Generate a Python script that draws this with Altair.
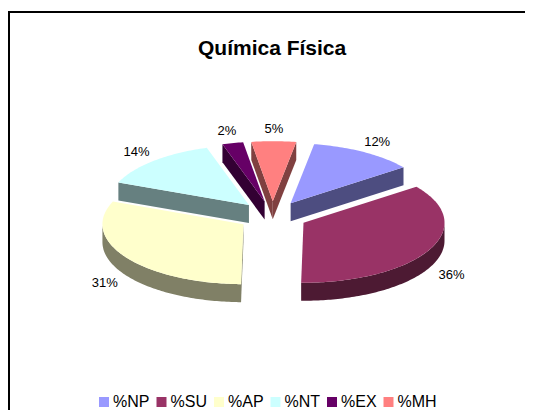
import math
import altair as alt
import pandas as pd

title_text = "Química Física"
names = ["%NP", "%SU", "%AP", "%NT", "%EX", "%MH"]
shares = [12.1, 35.5, 30.9, 14.0, 2.4, 5.1]
face_colors = ["#9999FF", "#993366", "#FFFFCC", "#CCFFFF", "#660066", "#FF8080"]
wall_colors = ["#4D4D80", "#4D1A33", "#808066", "#668080", "#330033", "#804040"]

FIRST_ANGLE = 9.6
RX, RY, DEPTH = 141.0, 60.0, 18.0
EXPLODE = 0.247
LABEL_RX, LABEL_RY = 201.0, 87.0
CX, CY = 272.5, 216.0          # page position of the pie centre
TOP = 8                        # page y of the view's top edge
LEFT = 8


def pt(ax, ay, deg, rx=RX, ry=RY, dy=0.0):
    t = math.radians(deg)
    return [ax + rx * math.sin(t), ay - ry * math.cos(t) + dy]


def arc(ax, ay, a0, a1, dy=0.0):
    n = max(2, int(abs(a1 - a0)) + 1)
    return [pt(ax, ay, a0 + (a1 - a0) * i / n, dy=dy) for i in range(n + 1)]


def feature(ring, **props):
    ring = [[round(x, 2), round(y, 2)] for x, y in ring]
    ring.append(ring[0])
    return {"type": "Feature", "properties": props,
            "geometry": {"type": "Polygon", "coordinates": [ring]}}


faces, walls, labels = [], [], []
start = FIRST_ANGLE
for name, share, wall in zip(names, shares, wall_colors):
    end = start + share * 3.6
    mid = (start + end) / 2
    ax, ay = pt(CX, CY, mid, RX * EXPLODE, RY * EXPLODE)
    top = arc(ax, ay, start, end)
    faces.append(feature([[ax, ay]] + top, series=name))
    # outer rim, the part that turns towards the viewer (90..270 degrees)
    lo, hi = max(start, 90), min(end, 270)
    if lo < hi:
        walls.append(feature(arc(ax, ay, lo, hi) + arc(ax, ay, hi, lo, DEPTH), wall=wall))
    # radial cuts that face the viewer
    s = start % 360
    if 180 < s < 360:
        p = pt(ax, ay, start)
        walls.append(feature([[ax, ay], p, [p[0], p[1] + DEPTH], [ax, ay + DEPTH]], wall=wall))
    e = end % 360
    if 0 < e < 180:
        p = pt(ax, ay, end)
        walls.append(feature([[ax, ay], p, [p[0], p[1] + DEPTH], [ax, ay + DEPTH]], wall=wall))
    below = math.cos(math.radians(mid)) < 0
    lx, ly = pt(CX, CY, mid, LABEL_RX, LABEL_RY, DEPTH + 1 if below else 0)
    labels.append({"lon": lx, "lat": ly, "text": f"{round(share)}%"})
    start = end

projection = dict(type="identity", scale=1, translate=[-LEFT, -TOP])

wall_layer = alt.Chart(alt.Data(values=walls)).mark_geoshape(strokeWidth=0).encode(
    color=alt.Color("properties.wall:N", scale=None)
).project(**projection)

face_layer = alt.Chart(alt.Data(values=faces)).mark_geoshape(strokeWidth=0).encode(
    color=alt.Color(
        "properties.series:N",
        scale=alt.Scale(domain=names, range=face_colors),
        sort=names,
        legend=alt.Legend(
            title=None, orient="none", direction="horizontal", columns=6,
            legendX=88, legendY=386, padding=0,
            symbolType="square", symbolSize=100, symbolStrokeWidth=0,
            symbolOpacity=1,
            labelFont="Liberation Sans", labelFontSize=16, labelColor="#000000",
            labelOffset=1, columnPadding=3.5, symbolOffset=0,
        ),
    )
).project(**projection)

label_layer = alt.Chart(pd.DataFrame(labels)).mark_text(
    font="Liberation Sans", fontSize=13, color="#000000", align="center", baseline="middle"
).encode(longitude="lon:Q", latitude="lat:Q", text="text:N").project(**projection)

frame = pd.DataFrame({"a": [0]})
top_rule = alt.Chart(frame).mark_rule(color="#000000", strokeWidth=2).encode(
    x=alt.value(0), x2=alt.value(517), y=alt.value(4)
)
left_rule = alt.Chart(frame).mark_rule(color="#000000", strokeWidth=2).encode(
    x=alt.value(1), y=alt.value(3), y2=alt.value(402)
)

chart = alt.layer(wall_layer, face_layer, label_layer, top_rule, left_rule).properties(
    width=517,
    height=402,
    padding=0,
    autosize=alt.AutoSizeParams(type="none"),
    background="#FFFFFF",
    title=alt.TitleParams(
        title_text, anchor="start", offset=-51, dx=191,
        font="Liberation Sans", fontSize=21, fontWeight="bold", color="#000000",
    ),
).configure_view(stroke=None)

chart.save("out.html", embed_options={"renderer": "svg", "actions": False})
